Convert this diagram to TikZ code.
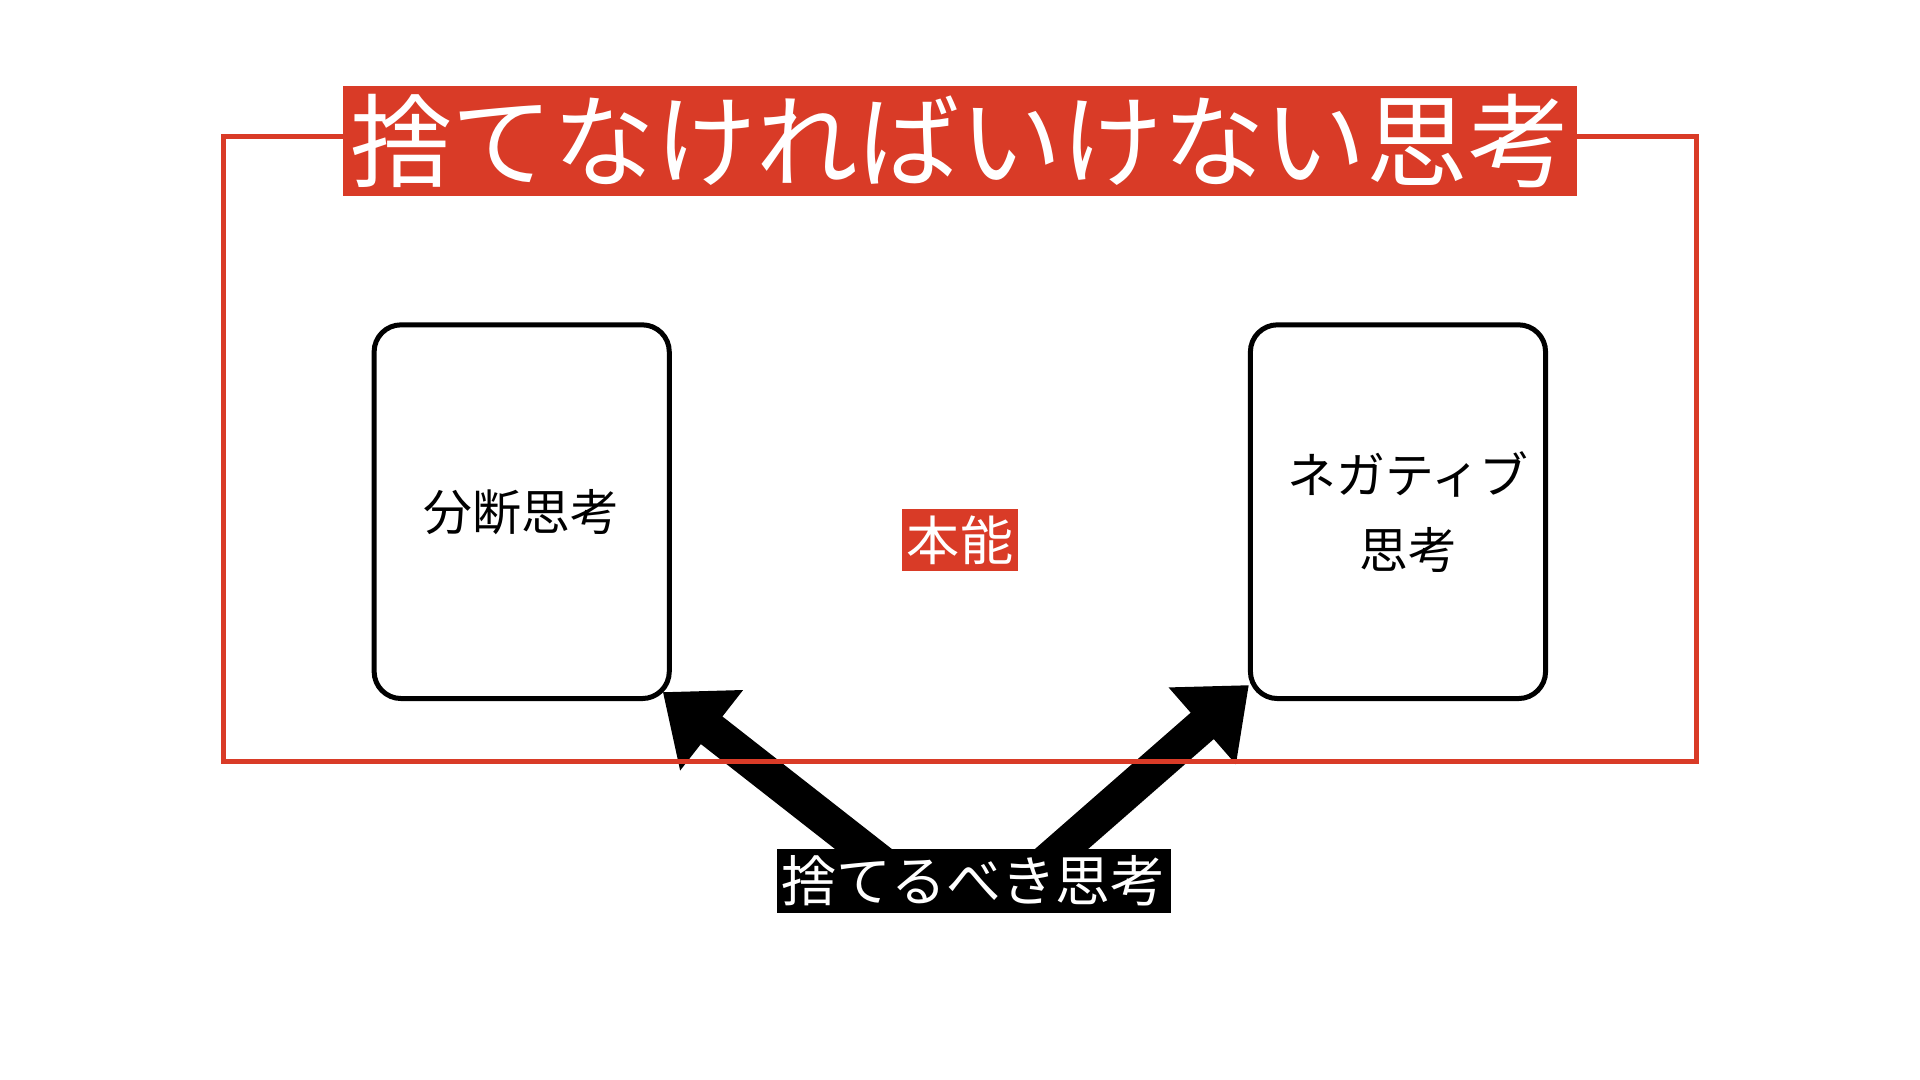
\documentclass[tikz,border=0pt]{standalone}
\usepackage{fontspec}
\setmainfont{Noto Sans CJK JP}
\usetikzlibrary{arrows.meta,backgrounds}
\definecolor{warnred}{RGB}{217,59,39}
\begin{document}
\begin{tikzpicture}
        [
            x = 0.01cm, y = -0.01cm,
            thought/.style={draw, line width=0.05cm, rounded corners=0.27cm, minimum width=2.95cm, minimum height=3.735cm, align=center, font=\fontsize{13.9pt}{21.3pt}\selectfont},
            banner/.style={fill=warnred, text=white, inner sep=0pt},
            caption/.style={fill=black, text=white, inner sep=0pt, minimum width=3.94cm, minimum height=0.64cm, font=\fontsize{15.6pt}{18pt}\selectfont},
            fatarrow/.style={line width=0.35cm, -{Triangle[length=0.62cm, width=0.98cm]}},
        ]
        \useasboundingbox (0,0) rectangle (1920,1080);
        \draw[warnred, line width=0.05cm] (223.5,137) rectangle (1696,761.5);
        \node[banner, minimum width=12.34cm, minimum height=1.1cm, font=\fontsize{28.9pt}{34pt}\selectfont] (title) at (960,141) {捨てなければいけない思考};
        \node[thought] (divide) at (521.7,511.7) {分断思考};
        \node[thought] (negative) at (1398,511.7) {\hspace*{0.2cm}ネガティブ\\\hspace*{0.2cm}思考};
        \node[banner, minimum width=1.16cm, minimum height=0.62cm, font=\fontsize{15.1pt}{18pt}\selectfont] (instinct) at (960,540) {本能};
        \node[caption] (discard) at (973.7,881) {捨てるべき思考};
        \begin{scope}[on background layer]
            \draw[fatarrow] ([shift={(-86,-13)}]discard.center) -- ([shift={(-9,-9)}]divide.south east);
            \draw[fatarrow] ([shift={(65,-12)}]discard.center) -- ([shift={(1,-16)}]negative.south west);
        \end{scope}
\end{tikzpicture}
\end{document}
